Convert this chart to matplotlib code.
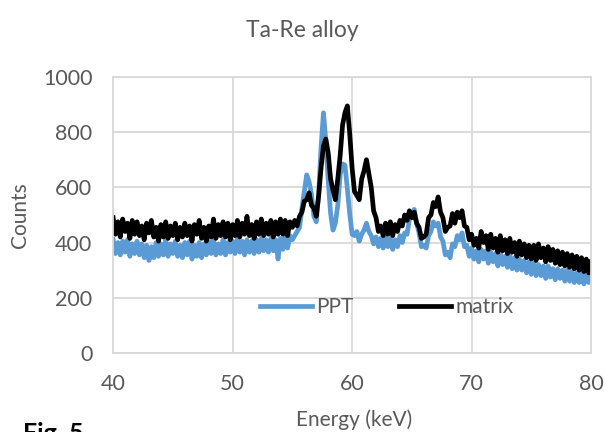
import numpy as np
import matplotlib.pyplot as plt

plt.rcParams['font.family'] = ['Lato', 'DejaVu Sans']

# energy grid (keV), 0.2 keV steps
energy = np.linspace(40, 80, 201)

ppt = [
    # 40.0 - 54.8
    410, 360, 400, 355, 405, 365, 410, 350, 395, 360,
    405, 355, 395, 345, 390, 335, 385, 345, 400, 350,
    395, 355, 410, 350, 395, 360, 405, 350, 390, 345,
    400, 355, 405, 340, 390, 350, 400, 345, 395, 355,
    405, 360, 410, 355, 395, 360, 410, 355, 400, 365,
    405, 360, 415, 365, 405, 355, 410, 365, 405, 360,
    410, 365, 415, 370, 410, 365, 415, 370, 410, 340,
    415, 375, 420, 380, 425,
    # 55.0 - 61.8
    410, 425, 440, 455, 525, 585, 645, 620, 575, 495,
    475, 575, 745, 870, 770, 625, 505, 445, 470, 535,
    645, 685, 680, 595, 505, 430, 425, 440, 405, 430,
    445, 470, 440, 425, 395,
    # 62.0 - 80.0
    420, 385, 415, 380, 420, 385, 415, 375, 410, 385,
    425, 400, 435, 430, 485, 500, 520, 470, 435, 385,
    390, 380, 425, 440, 475, 460, 470, 420, 405, 355,
    365, 345, 395, 385, 425, 410, 435, 385, 390, 350,
    380, 340, 370, 330, 375, 340, 370, 325, 365, 330,
    360, 315, 365, 320, 350, 310, 355, 305, 345, 300,
    340, 300, 335, 290, 330, 285, 325, 280, 320, 280,
    315, 270, 315, 275, 305, 265, 305, 270, 300, 260,
    300, 260, 295, 255, 290, 255, 290, 250, 285, 255,
    280,
]

matrix = [
    # 40.0 - 54.8
    490, 430, 475, 420, 485, 440, 470, 415, 480, 430,
    475, 425, 460, 410, 470, 435, 480, 420, 455, 405,
    465, 420, 475, 415, 460, 425, 470, 410, 455, 420,
    470, 425, 460, 405, 465, 430, 480, 415, 455, 405,
    460, 420, 485, 415, 465, 425, 475, 420, 470, 410,
    465, 425, 480, 420, 470, 430, 495, 425, 465, 415,
    475, 430, 485, 425, 470, 430, 480, 420, 475, 430,
    485, 430, 480, 425, 475,
    # 55.0 - 61.8
    455, 480, 460, 495, 510, 550, 555, 580, 535, 525,
    495, 570, 670, 750, 775, 725, 630, 590, 555, 630,
    715, 825, 870, 895, 795, 670, 585, 570, 555, 630,
    660, 700, 650, 600, 515,
    # 62.0 - 80.0
    490, 440, 460, 425, 470, 430, 475, 425, 465, 440,
    480, 460, 500, 480, 515, 490, 510, 470, 455, 415,
    420, 430, 490, 500, 545, 530, 565, 510, 490, 440,
    455, 460, 505, 470, 510, 490, 515, 460, 455, 410,
    430, 390, 415, 380, 440, 400, 425, 375, 430, 380,
    415, 365, 425, 370, 410, 360, 415, 365, 400, 350,
    405, 355, 395, 345, 390, 340, 390, 335, 395, 345,
    380, 330, 385, 335, 375, 325, 370, 320, 365, 315,
    360, 310, 355, 305, 350, 300, 345, 295, 340, 290,
    330,
]

grey = '#595959'
gridc = '#d9d9d9'

fig = plt.figure(figsize=(6.05, 4.32), dpi=100)
ax = fig.add_axes([0.187, 0.183, 0.790, 0.639])

ax.plot(energy, ppt, color='#5b9bd5', lw=3.4, label='PPT', solid_joinstyle='round')
ax.plot(energy, matrix, color='black', lw=3.4, label='matrix', solid_joinstyle='round')

ax.set_xlim(40, 80)
ax.set_ylim(0, 1000)
ax.set_xticks([40, 50, 60, 70, 80])
ax.set_yticks([0, 200, 400, 600, 800, 1000])
ax.grid(True, color=gridc, lw=1.3)
ax.set_axisbelow(True)
for s in ax.spines.values():
    s.set_color(gridc)
    s.set_linewidth(1.3)
ax.tick_params(length=0, labelsize=15.5, labelcolor=grey)
ax.tick_params(axis='y', pad=15)
ax.tick_params(axis='x', pad=15)

fig.text(0.5, 0.93, 'Ta-Re alloy', ha='center', va='center', fontsize=16.5, color=grey)
fig.text(0.033, 0.502, 'Counts', rotation=90, ha='center', va='center', fontsize=15, color=grey)
fig.text(0.585, 0.028, 'Energy (keV)', ha='center', va='center', fontsize=15, color=grey)
fig.text(0.038, 1 - 422 / 432, 'Fig. 5', ha='left', va='top', fontsize=18,
         fontweight='bold', color='black')

leg = ax.legend(loc='center', bbox_to_anchor=(0.572, 0.167), ncol=2, frameon=False,
                fontsize=15, handlelength=2.5, handletextpad=0.2, columnspacing=2.2)
for t in leg.get_texts():
    t.set_color(grey)

fig.savefig('out.png', dpi=100)
